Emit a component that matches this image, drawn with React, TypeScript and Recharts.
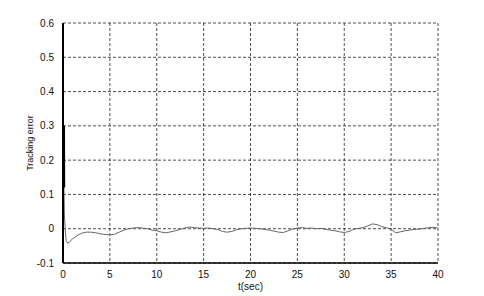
import { CartesianGrid, Line, LineChart, XAxis, YAxis } from "recharts";

const TIMES = [
  0.08, 0.1, 0.15, 0.25, 0.35, 0.5, 0.7, 1, 1.5, 2, 2.5, 3, 3.5, 4, 4.5, 5, 5.5, 6, 6.5, 7, 7.5, 8,
  8.5, 9, 9.5, 10, 10.5, 11, 11.5, 12, 12.5, 13, 13.5, 14, 14.5, 15, 15.5, 16, 16.5, 17, 17.5,
  18, 18.5, 19, 19.5, 20, 20.5, 21, 21.5, 22, 22.5, 23, 23.5, 24, 24.5, 25, 25.5, 26, 26.5, 27,
  27.5, 28, 28.5, 29, 29.5, 30, 30.5, 31, 31.5, 32, 32.5, 33, 33.5, 34, 34.5, 35, 35.5, 36, 36.5,
  37, 37.5, 38, 38.5, 39, 39.5, 40,
];

const ERROR = [
  0.3, 0.12, 0.04, -0.01, -0.035, -0.042, -0.038, -0.03, -0.02, -0.013, -0.01, -0.01, -0.012,
  -0.015, -0.017, -0.018, -0.016, -0.01, -0.004, 0, 0.002, 0.003, 0.002, 0, -0.004, -0.006, -0.01,
  -0.012, -0.009, -0.006, -0.002, 0.002, 0.005, 0.003, 0.002, 0.001, 0.002, 0, -0.002, -0.008,
  -0.01, -0.008, -0.003, 0, 0.001, 0.002, 0.001, 0, -0.002, -0.004, -0.007, -0.01, -0.011, -0.006,
  -0.001, 0.002, 0.003, 0.001, 0.002, 0, 0.001, -0.002, -0.004, -0.006, -0.009, -0.011, -0.008,
  -0.002, 0.001, 0.003, 0.008, 0.014, 0.012, 0.006, 0.003, -0.002, -0.012, -0.009, -0.006, -0.004,
  -0.002, -0.001, 0.001, 0.003, 0.004, 0.002,
];

// initial jump drawn as a heavy black stroke
const SPIKE_POINTS = 2;

const X_TICKS = [0, 5, 10, 15, 20, 25, 30, 35, 40];
const Y_TICKS = [-0.1, 0, 0.1, 0.2, 0.3, 0.4, 0.5, 0.6];

const data = TIMES.map((t, i) => ({
  t,
  err: ERROR[i],
  spike: i < SPIKE_POINTS ? ERROR[i] : null,
}));

const font = { fontFamily: "Arial, 'Liberation Sans', sans-serif", fontSize: 10, fill: "#111" };

export default function App() {
  return (
    <div style={{ position: "absolute", left: 0, top: 0, background: "#fff" }}>
      <LineChart
        width={484}
        height={296}
        data={data}
        margin={{ top: 23, right: 46, bottom: 13, left: 18 }}
      >
        <CartesianGrid stroke="#222" strokeWidth={0.8} strokeDasharray="3 2" />
        <XAxis
          dataKey="t"
          type="number"
          domain={[0, 40]}
          ticks={X_TICKS}
          tick={font}
          tickLine={false}
          tickMargin={2}
          height={20}
          axisLine={{ stroke: "#000", strokeWidth: 1.5 }}
          label={{ value: "t(sec)", position: "bottom", offset: 0, style: { ...font, fontSize: 10 } }}
        />
        <XAxis
          xAxisId="top"
          orientation="top"
          dataKey="t"
          type="number"
          domain={[0, 40]}
          tick={false}
          tickLine={false}
          height={0}
          axisLine={{ stroke: "#000", strokeWidth: 1 }}
        />
        <YAxis
          type="number"
          domain={[-0.1, 0.6]}
          ticks={Y_TICKS}
          tick={font}
          tickLine={false}
          tickMargin={3}
          width={45}
          tickFormatter={(v: number) => String(Math.round(v * 10) / 10)}
          axisLine={{ stroke: "#000", strokeWidth: 2 }}
          label={{
            value: "Tracking error",
            angle: -90,
            position: "insideLeft",
            offset: 12,
            style: { ...font, fontSize: 9, textAnchor: "middle" },
          }}
        />
        <YAxis
          yAxisId="right"
          orientation="right"
          type="number"
          domain={[-0.1, 0.6]}
          tick={false}
          tickLine={false}
          width={0}
          axisLine={{ stroke: "#000", strokeWidth: 1.5 }}
        />
        <Line
          dataKey="err"
          stroke="#666"
          strokeWidth={1}
          dot={false}
          isAnimationActive={false}
        />
        <Line
          dataKey="spike"
          stroke="#000"
          strokeWidth={2.5}
          dot={false}
          connectNulls={false}
          isAnimationActive={false}
        />
      </LineChart>
    </div>
  );
}
